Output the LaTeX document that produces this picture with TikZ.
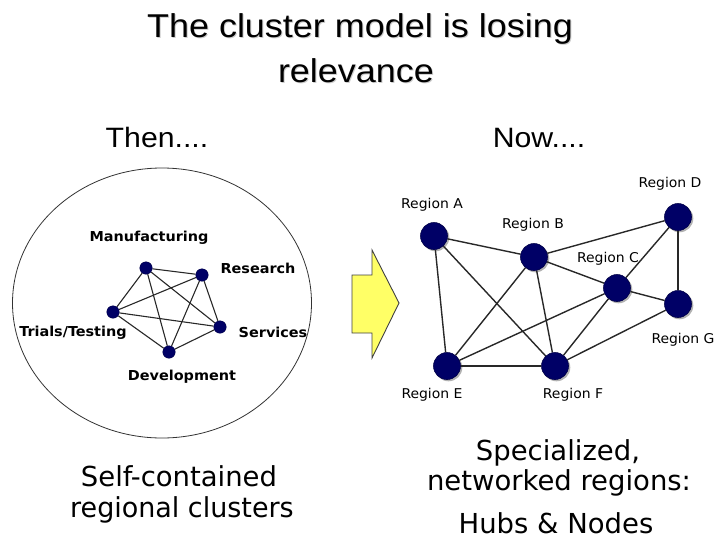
\documentclass[tikz,border=0pt]{standalone}
\usepackage{fontspec}
\setmainfont{Liberation Sans}
\newfontfamily\tahomalike{DejaVu Sans Condensed}
\usetikzlibrary{shapes.geometric,backgrounds,calc}

\definecolor{hubblue}{RGB}{0,0,102}
\definecolor{arrowyellow}{RGB}{255,255,102}
\definecolor{edgegray}{RGB}{40,40,40}

% widen a text horizontally by a factor
\newcommand\widen[2]{\scalebox{#1}[1]{#2}}

\tikzset{
  hub/.style={circle, fill=hubblue, draw=hubblue!70!black, line width=0.6pt, minimum size=27pt, inner sep=0pt},
  minihub/.style={circle, fill=hubblue, draw=hubblue!70!black, line width=0.4pt, minimum size=12.5pt, inner sep=0pt},
  link/.style={draw=edgegray, line width=1.4pt},
  minilink/.style={draw=edgegray, line width=1.1pt},
  heading/.style={font=\fontsize{33}{33}\selectfont, anchor=base, inner sep=0pt},
  era/.style={font=\fontsize{28}{28}\selectfont, anchor=base, inner sep=0pt},
  caption/.style={font=\tahomalike\fontsize{27.5}{27.5}\selectfont, anchor=base, inner sep=0pt},
  rolelabel/.style={font=\tahomalike\bfseries\fontsize{13.7}{13.7}\selectfont, inner sep=0pt},
  regionlabel/.style={font=\tahomalike\fontsize{13.5}{13.5}\selectfont, inner sep=0pt},
}

\begin{document}
\begin{tikzpicture}[x=1pt, y=-1pt]
\useasboundingbox (0,0) rectangle (715,541);

% headings
\node[heading, text=gray!40] at (361,38) {\widen{1.09}{The cluster model is losing}};
\node[heading] (title1) at (360,37) {\widen{1.09}{The cluster model is losing}};
\node[heading, text=gray!40] at (357,83) {\widen{1.09}{relevance}};
\node[heading] (title2) at (356,82) {\widen{1.09}{relevance}};

\node[era] (then) at (157,147) {\widen{1.08}{Then....}};
\node[era] (now) at (539,147) {\widen{1.08}{Now....}};

% self-contained cluster
\node[draw=black!80, line width=0.8pt, ellipse, minimum width=299pt, minimum height=270pt, inner sep=0pt] (cluster) at (162,303) {};

\node[minihub] (man) at (146,268) {};
\node[minihub] (res) at (202,275) {};
\node[minihub] (ser) at (220,327) {};
\node[minihub] (dev) at (169,352) {};
\node[minihub] (tri) at (113,312) {};

\begin{scope}[on background layer]
\foreach \a/\b in {man/res, man/ser, man/dev, man/tri, res/ser, res/dev, res/tri, ser/dev, ser/tri, dev/tri}
  \draw[minilink] (\a) -- (\b);
\end{scope}

\node[rolelabel] (lman) at (149,238) {\widen{1.17}{Manufacturing}};
\node[rolelabel] (lres) at (258,268) {\widen{1.17}{Research}};
\node[rolelabel] (lser) at (273,332) {\widen{1.17}{Services}};
\node[rolelabel] (ltri) at (73,333) {\widen{1.17}{Trials/Testing}};
\node[rolelabel] (ldev) at (182,377) {\widen{1.17}{Development}};

% transition arrow
\draw[draw=black!75, line width=0.9pt, fill=arrowyellow, line join=miter]
  (352,275) -- (372,275) -- (372,250) -- (399,303) -- (372,358) -- (372,333) -- (352,333) -- cycle;

% networked regions
\node[hub] (rA) at (434,236) {};
\node[hub] (rB) at (534,257) {};
\node[hub] (rC) at (617,288) {};
\node[hub] (rD) at (678,217) {};
\node[hub] (rG) at (678,304) {};
\node[hub] (rE) at (447,366) {};
\node[hub] (rF) at (555,366) {};

\begin{scope}[on background layer]
\foreach \n in {A,B,C,D,G,E,F}
  \fill[black!30] ($(r\n.center)+(1.5,1.5)$) circle (13.8pt);
\foreach \a/\b in {A/B, A/E, A/F, B/D, B/C, B/E, B/F, C/D, C/G, C/E, C/F, D/G, G/F, E/F}
  \draw[link] (r\a) -- (r\b);
\end{scope}

\node[regionlabel] (lA) at (432,205) {\widen{1.15}{Region A}};
\node[regionlabel] (lB) at (533,225) {\widen{1.15}{Region B}};
\node[regionlabel] (lC) at (608,259) {\widen{1.15}{Region C}};
\node[regionlabel] (lD) at (670,184) {\widen{1.15}{Region D}};
\node[regionlabel] (lG) at (683,340) {\widen{1.15}{Region G}};
\node[regionlabel] (lE) at (432,395) {\widen{1.15}{Region E}};
\node[regionlabel] (lF) at (573,395) {\widen{1.15}{Region F}};

% captions
\node[caption] (cap1) at (179,486) {\widen{1.11}{Self-contained}};
\node[caption] (cap2) at (182,517) {\widen{1.09}{regional clusters}};
\node[caption] (cap3) at (558,460) {\widen{1.11}{Specialized,}};
\node[caption] (cap4) at (559,490) {\widen{1.11}{networked regions:}};
\node[caption] (cap5) at (556,533) {\widen{1.11}{Hubs \& Nodes}};
\end{tikzpicture}
\end{document}
